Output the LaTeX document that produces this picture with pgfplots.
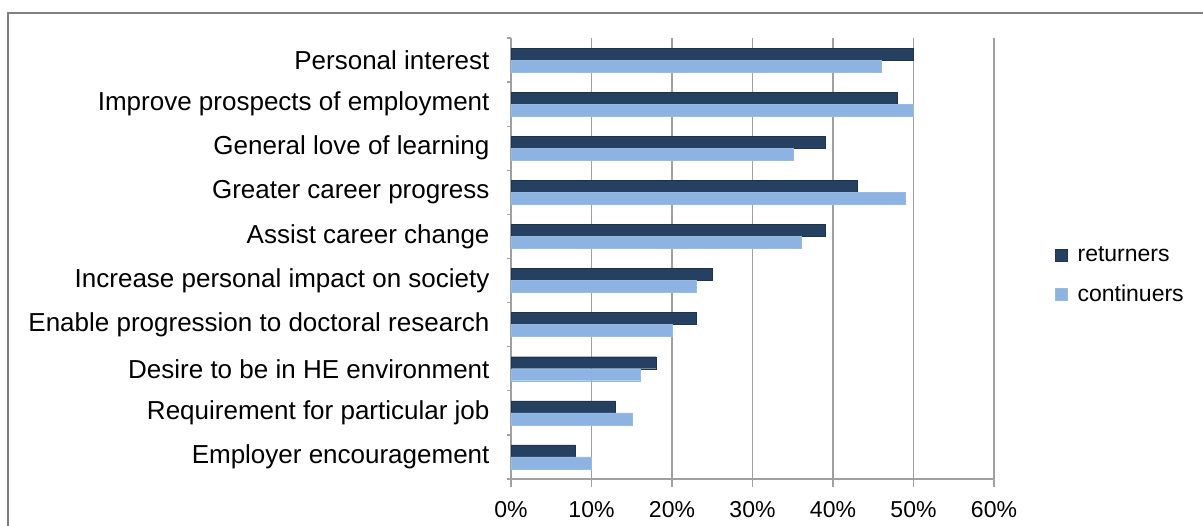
\documentclass[border=0pt]{standalone}
\usepackage{fontspec}
\setmainfont{Liberation Sans}
\usepackage{pgfplots}
\pgfplotsset{compat=1.18}
\definecolor{ret}{RGB}{37,64,97}
\definecolor{con}{RGB}{141,179,226}
\definecolor{gridc}{RGB}{160,160,160}
\definecolor{framec}{RGB}{128,128,128}
\begin{document}
\begin{tikzpicture}[x=1bp,y=1bp]
\useasboundingbox (0,0) rectangle (1203,526);
\draw[framec, line width=1.5bp] (8,0) -- (8,513) -- (1203,513);
\begin{axis}[
  at={(511bp,47bp)}, anchor=south west,
  scale only axis, width=483bp, height=441bp,
  xbar, bar width=12bp,
  xmin=0, xmax=60, ymin=-0.5, ymax=9.5,
  axis x line*=bottom, axis y line*=left,
  axis line style={-, draw=gridc, line width=1.3bp},
  xtick={0,10,...,60},
  xticklabel={\pgfmathprintnumber{\tick}\%},
  /pgf/number format/assume math mode=true,
  xmajorgrids, major grid style={draw=gridc, line width=1.3bp},
  tick align=outside, major tick length=8bp,
  xtick style={draw=gridc, line width=1.3bp},
  ytick={0,...,9},
  yticklabels={Employer encouragement,Requirement for particular job,Desire to be in HE environment,Enable progression to doctoral research,Increase personal impact on society,Assist career change,Greater career progress,General love of learning,Improve prospects of employment,Personal interest},
  ytick style={draw=none},
  extra y ticks={-0.5,0.5,...,9.5},
  extra y tick labels={},
  extra y tick style={ytick style={draw=gridc, line width=1.3bp}, major tick length=4bp},
  x tick label style={font=\fontsize{23bp}{27bp}\selectfont, yshift=-11bp},
  y tick label style={font=\fontsize{26bp}{30bp}\selectfont, xshift=-10bp},
  legend style={at={(1.1263,0.4626)}, anchor=west, draw=none, fill=none,
    font=\fontsize{23bp}{27bp}\selectfont, row sep=18bp, inner sep=0pt,
    cells={anchor=west}, /tikz/every odd column/.append style={column sep=8bp}},
  legend image code/.code={\fill[#1] (0bp,-6bp) rectangle (12bp,6bp);},
]
\addplot[fill=ret, draw=ret!80!black, bar shift=6bp] coordinates {
  (8,0) (13,1) (18,2) (23,3) (25,4) (39,5) (43,6) (39,7) (48,8) (50,9)};
\addlegendentry{returners}
\addplot[fill=con, draw=con!90!white, bar shift=-6bp] coordinates {
  (10,0) (15,1) (16,2) (20,3) (23,4) (36,5) (49,6) (35,7) (50,8) (46,9)};
\addlegendentry{continuers}
\end{axis}
\end{tikzpicture}
\end{document}
